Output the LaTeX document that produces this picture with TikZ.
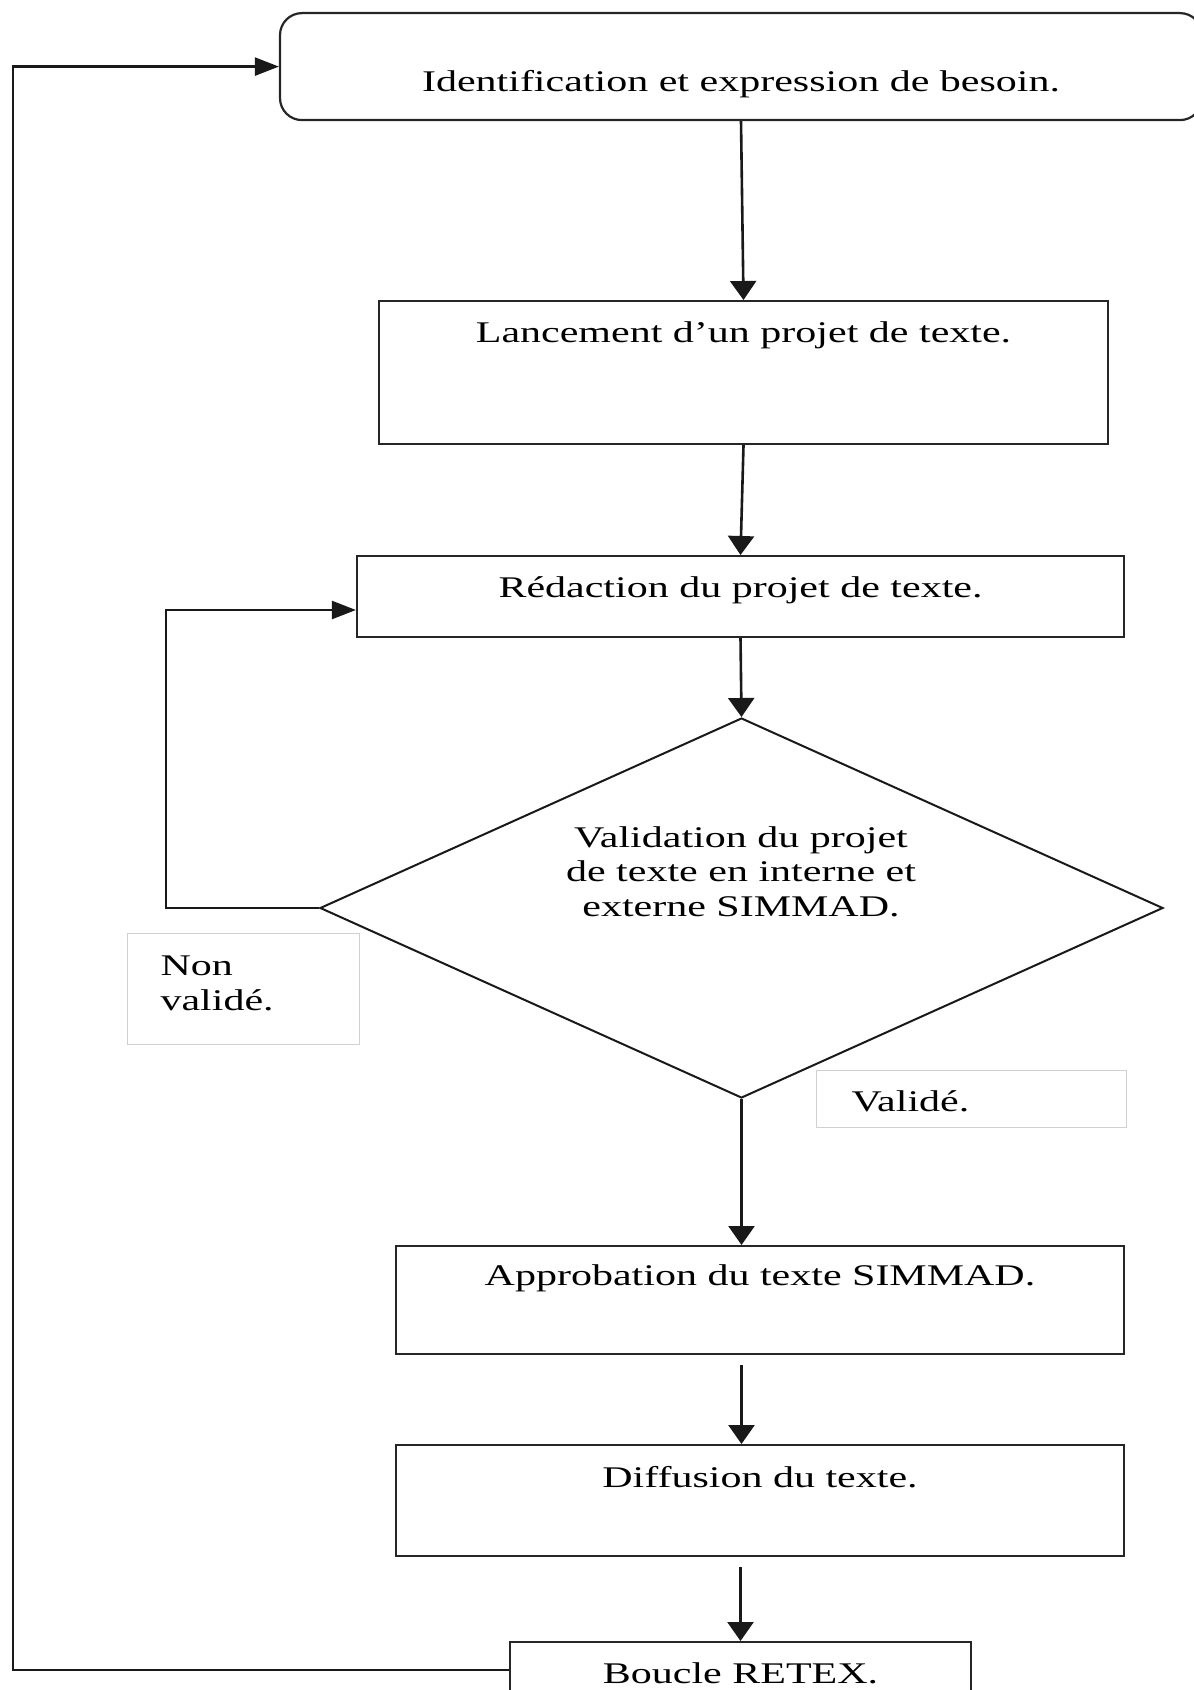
\documentclass[tikz,border=0pt]{standalone}
\usepackage{fontspec}
\setmainfont{Liberation Serif}[FakeStretch=1.4]
\usetikzlibrary{shapes.geometric,arrows.meta,positioning,calc}
\tikzset{
  boite/.style={rectangle, draw=black!85, line width=1.1pt, inner xsep=0pt, inner ysep=0pt,
                anchor=north, align=center, font=\fontsize{15}{16.5}\selectfont},
  losange/.style={diamond, draw=black!90, line width=1pt, inner sep=0pt,
                  minimum width=421.5pt, minimum height=190pt},
  etiquette/.style={rectangle, draw=black!18, line width=0.5pt, anchor=north west,
                    inner ysep=0pt, align=left, font=\fontsize{15}{17.5}\selectfont},
  fleche/.style={-{Triangle[length=9.5pt,width=13pt]}, line width=1.3pt, black!90},
  flecheh/.style={-{Triangle[length=12pt,width=9pt]}, line width=1.2pt, black!90},
}

\begin{document}
\begin{tikzpicture}[x=0.5pt, y=-0.5pt]
  \useasboundingbox (0,0) rectangle (1193,1690);
  \node[boite, rounded corners=11pt, minimum width=461pt, text height=39pt, text depth=14.5pt]
        (ident) at (741,12) {Identification et expression de besoin.};
  \node[boite, minimum width=364.5pt, text height=20.5pt, text depth=51pt]
        (lancement) at (743.5,300) {Lancement d’un projet de texte.};
  \node[boite, minimum width=383.5pt, text height=20.5pt, text depth=20pt]
        (redaction) at (740.5,555) {Rédaction du projet de texte.};
  \node[losange] (valid) at (741.5,908) {};
  \node[font=\fontsize{15}{17.2}\selectfont, align=center, inner sep=0pt]
        (validtxt) at (741,871.5) {Validation du projet\\de texte en interne et\\externe SIMMAD.};
  \node[boite, minimum width=364pt, text height=19.5pt, text depth=34.5pt]
        (approbation) at (760,1245) {Approbation du texte SIMMAD.};
  \node[boite, minimum width=364pt, text height=21pt, text depth=34.5pt]
        (diffusion) at (760,1444) {Diffusion du texte.};
  \node[boite, minimum width=230.5pt, text height=20.5pt, text depth=30pt]
        (boucle) at (740.5,1641) {Boucle RETEX.};

  % etiquettes des branches
  \node[etiquette, minimum width=116pt, text height=21pt, text depth=34.5pt,
        inner xsep=16.5pt, text width=83pt]
        (nonvalide) at (127,933) {Non\\validé.};
  \node[etiquette, minimum width=155pt, text height=20.5pt, text depth=8pt,
        inner xsep=17.5pt, text width=120pt]
        (valide) at (816,1070) {Validé.};

  \coordinate (retour) at (166,610);
  \coordinate (coin) at (13,1670);

  \draw[fleche] (ident.south) -- (lancement.north);
  \draw[fleche] (lancement.south) -- (redaction.north);
  \draw[fleche] (redaction.south) -- (valid.north);
  \draw[fleche] (valid.south) -- (valid.south |- approbation.north);
  \draw[fleche] ([yshift=-5]valid.south |- approbation.south) -- (valid.south |- diffusion.north);
  \draw[fleche] ([yshift=-5]boucle.north |- diffusion.south) -- (boucle.north);
  \draw[flecheh] (valid.west) -| (retour) -- (retour -| redaction.west);
  \draw[flecheh] (coin -| boucle.west) -- (coin) |- (ident.west);
\end{tikzpicture}
\end{document}
